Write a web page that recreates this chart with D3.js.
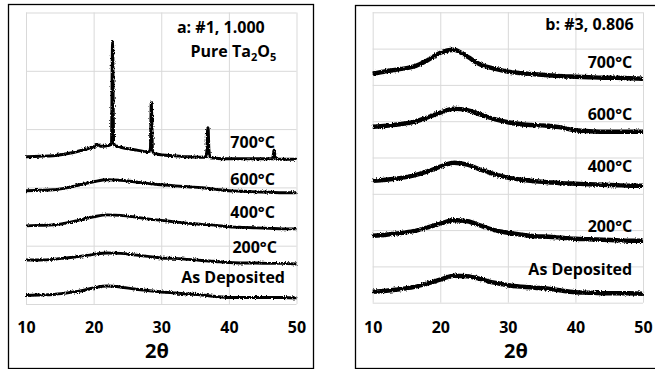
<!DOCTYPE html>
<html>
<head>
<meta charset="utf-8">
<script src="https://cdn.jsdelivr.net/npm/d3@7"></script>
<style>
  body { margin: 0; background: #fff; }
  svg { display: block; font-family: 'Open Sans', sans-serif; font-weight: bold; }
</style>
</head>
<body>
<svg id="chart" width="655" height="369"></svg>
<script>
// 2-theta grid (degrees) shared by the smooth patterns
const angle = [10, 12, 14, 16, 18, 20, 22, 24, 26, 28, 30, 32, 34, 36, 38, 40, 42, 44, 46, 48, 50];
const xTicks = [10, 20, 30, 40, 50];

// panel a: #1, pure Ta2O5 (offset intensities, arbitrary units)
const aAsDep = [0.146, 0.155, 0.163, 0.189, 0.223, 0.275, 0.309, 0.292, 0.258, 0.232, 0.206, 0.189, 0.172, 0.155, 0.129, 0.112, 0.112, 0.112, 0.112, 0.112, 0.103];
const a200 = [0.756, 0.756, 0.765, 0.790, 0.816, 0.851, 0.876, 0.868, 0.842, 0.816, 0.790, 0.782, 0.765, 0.747, 0.730, 0.713, 0.704, 0.704, 0.696, 0.696, 0.687];
const a400 = [1.340, 1.349, 1.357, 1.392, 1.443, 1.495, 1.529, 1.521, 1.495, 1.460, 1.435, 1.409, 1.383, 1.366, 1.349, 1.323, 1.314, 1.306, 1.297, 1.289, 1.289];
const a600 = [1.942, 1.950, 1.959, 1.993, 2.045, 2.096, 2.131, 2.122, 2.096, 2.070, 2.045, 2.027, 2.010, 1.993, 1.967, 1.942, 1.933, 1.924, 1.916, 1.907, 1.907];
// 700C is crystalline: its own angles so the sharp peaks are kept
const a700Angle = [10, 12, 14, 16, 18, 19.5, 20.3, 20.6, 21, 22, 22.5, 22.65, 22.75, 22.8, 22.85, 22.95, 23.2, 23.5, 24, 26, 28, 28.3,
  28.4, 28.48, 28.52, 28.6, 28.7, 28.9, 29.5, 30, 32, 34, 36, 36.6, 36.75, 36.85, 36.9, 36.95, 37.05, 37.25, 38, 40, 42, 44, 46.4,
  46.55, 46.65, 46.7, 46.8, 46.95, 48, 50];
const a700 = [2.526, 2.534, 2.543, 2.577, 2.629, 2.680, 2.715, 2.740, 2.706, 2.715, 2.732, 2.766, 4.192, 4.502, 4.192, 2.766, 2.715, 2.706, 2.689, 2.646, 2.612, 2.620,
  2.680, 3.247, 3.454, 3.247, 2.646, 2.586, 2.569, 2.560, 2.543, 2.526, 2.517, 2.526, 2.646, 2.990, 3.024, 2.990, 2.646, 2.509, 2.500, 2.491, 2.491, 2.491, 2.491,
  2.543, 2.629, 2.637, 2.543, 2.483, 2.483, 2.483];

// panel b: #3, 0.806
const bAsDep = [0.303, 0.331, 0.372, 0.427, 0.523, 0.634, 0.744, 0.730, 0.647, 0.551, 0.482, 0.441, 0.413, 0.386, 0.331, 0.289, 0.275, 0.262, 0.262, 0.262, 0.248];
const b200 = [1.846, 1.873, 1.915, 1.970, 2.066, 2.176, 2.273, 2.245, 2.121, 1.997, 1.928, 1.873, 1.832, 1.818, 1.791, 1.763, 1.749, 1.736, 1.722, 1.708, 1.708];
const b400 = [3.361, 3.388, 3.430, 3.499, 3.609, 3.747, 3.857, 3.802, 3.664, 3.540, 3.444, 3.388, 3.347, 3.320, 3.292, 3.278, 3.264, 3.251, 3.237, 3.223, 3.223];
const b600 = [4.848, 4.876, 4.917, 4.972, 5.096, 5.234, 5.344, 5.303, 5.179, 5.055, 4.972, 4.917, 4.890, 4.876, 4.821, 4.752, 4.725, 4.711, 4.711, 4.711, 4.711];
const b700 = [6.309, 6.377, 6.433, 6.501, 6.667, 6.887, 6.970, 6.777, 6.556, 6.446, 6.364, 6.322, 6.295, 6.267, 6.240, 6.226, 6.212, 6.198, 6.198, 6.185, 6.171];

// curve labels: [text, 2theta of right end, intensity of baseline]
const aLabels = [['700°C', 46.8, 2.676], ['600°C', 46.8, 2.041], ['400°C', 46.8, 1.475], ['200°C', 47.1, 0.875], ['As Deposited', 48.3, 0.36]];
const bLabels = [['700°C', 48.4, 6.466], ['600°C', 48.4, 5.033], ['400°C', 48.4, 3.6], ['200°C', 48.4, 1.948], ['As Deposited', 48.4, 0.763]];

const zip = (xs, ys) => xs.map((x, i) => [x, ys[i]]);

const panels = [
  {
    box: [8, 4, 313, 368], plot: [26, 12.5, 296.5, 304], yMax: 5, lw: 2.9,
    series: [zip(angle, aAsDep), zip(angle, a200), zip(angle, a400), zip(angle, a600), zip(a700Angle, a700)],
    labels: aLabels, titleX: 157,
    title: [['a: #1, 1.000', 45.3, 4.648]]
  },
  {
    box: [355, 5, 660, 368], plot: [372.7, 12.3, 643, 302.7], yMax: 8, lw: 4.4,
    series: [zip(angle, bAsDep), zip(angle, b200), zip(angle, b400), zip(angle, b600), zip(angle, b700)],
    labels: bLabels, titleX: 516,
    title: [['b: #3, 0.806', 48.6, 7.51]]
  }
];

const svg = d3.select('#chart');

// rough the lines up a little, like the counting noise of the scans
const filt = svg.append('defs').append('filter')
  .attr('id', 'noisy').attr('x', '-2%').attr('y', '-10%').attr('width', '104%').attr('height', '120%');
filt.append('feTurbulence')
  .attr('type', 'fractalNoise').attr('baseFrequency', '0.9 0.6').attr('numOctaves', 2).attr('seed', 3).attr('result', 'n');
filt.append('feDisplacementMap')
  .attr('in', 'SourceGraphic').attr('in2', 'n').attr('scale', 3.2)
  .attr('xChannelSelector', 'R').attr('yChannelSelector', 'G');

panels.forEach((p, pi) => {
  const [px0, py0, px1, py1] = p.plot;

  svg.append('rect')
    .attr('x', p.box[0] + 0.5).attr('y', p.box[1] + 0.5)
    .attr('width', p.box[2] - p.box[0]).attr('height', p.box[3] - p.box[1])
    .attr('fill', '#fff').attr('stroke', '#000').attr('stroke-width', 1.3);

  const x = d3.scaleLinear().domain([10, 50]).range([px0, px1]);
  const y = d3.scaleLinear().domain([0, p.yMax]).range([py1, py0]);

  // gridlines
  svg.append('g')
    .attr('transform', `translate(0,${py1})`)
    .call(d3.axisBottom(x).tickValues(xTicks).tickSize(-(py1 - py0)).tickFormat(''))
    .call(g => g.select('.domain').remove())
    .call(g => g.selectAll('line').attr('stroke', '#d9d9d9').attr('stroke-width', 1));

  svg.append('g')
    .attr('transform', `translate(${px0},0)`)
    .call(d3.axisLeft(y).tickValues(d3.range(0, p.yMax + 1)).tickSize(-(px1 - px0)).tickFormat(''))
    .call(g => g.select('.domain').remove())
    .call(g => g.selectAll('line').attr('stroke', '#d9d9d9').attr('stroke-width', 1));

  // tick labels
  svg.append('g')
    .attr('transform', `translate(0,${py1})`)
    .call(d3.axisBottom(x).tickValues(xTicks).tickSize(0).tickPadding(322 - py1).tickFormat(d3.format('d')))
    .call(g => g.select('.domain').remove())
    .call(g => g.attr('font-size', null).attr('font-family', null))
    .call(g => g.selectAll('text')
      .attr('fill', '#000')
      .style('font-family', "'Open Sans', sans-serif")
      .style('font-weight', 'bold')
      .style('font-size', '16px'));

  svg.append('text')
    .attr('x', p.titleX).attr('y', 358)
    .attr('text-anchor', 'middle')
    .style('font-size', '20px')
    .text('2θ');

  const line = d3.line()
    .curve(d3.curveMonotoneX)
    .x(d => x(d[0]))
    .y(d => y(d[1]));

  svg.append('g')
    .attr('filter', 'url(#noisy)')
    .selectAll('path')
    .data(p.series)
    .enter()
    .append('path')
    .attr('d', line)
    .attr('fill', 'none')
    .attr('stroke', '#000')
    .attr('stroke-width', p.lw)
    .attr('stroke-linejoin', 'round');

  svg.append('g').selectAll('text')
    .data(p.labels.concat(p.title))
    .enter()
    .append('text')
    .attr('x', d => x(d[1]))
    .attr('y', d => y(d[2]))
    .attr('text-anchor', 'end')
    .style('font-size', '16px')
    .text(d => d[0]);

  if (pi === 0) {
    const t = svg.append('text')
      .attr('x', x(47.0)).attr('y', y(4.237))
      .attr('text-anchor', 'end')
      .style('font-size', '16px');
    t.append('tspan').text('Pure Ta');
    t.append('tspan').attr('dy', 4).style('font-size', '11px').text('2');
    t.append('tspan').attr('dy', -4).text('O');
    t.append('tspan').attr('dy', 4).style('font-size', '11px').text('5');
  }
});
</script>
</body>
</html>
